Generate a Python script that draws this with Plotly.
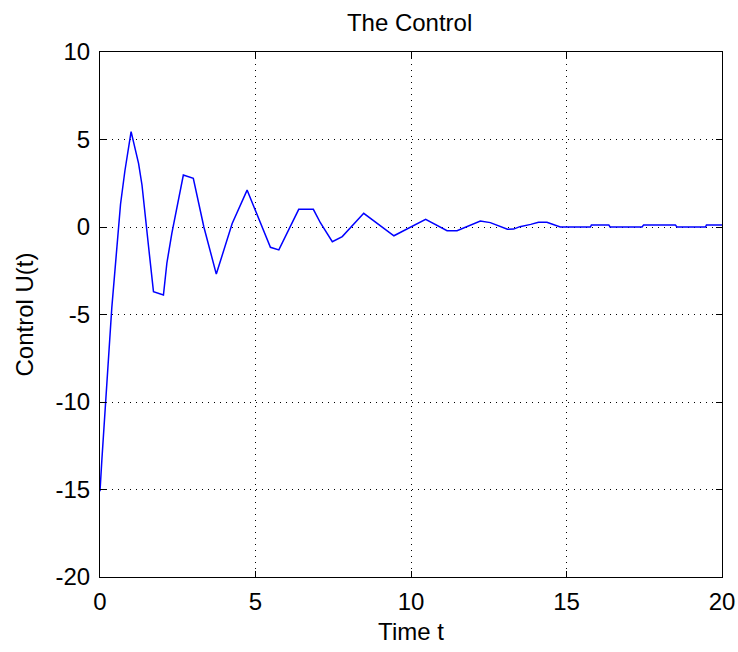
import plotly.graph_objects as go

time_t = [0.0, 0.06, 0.38, 0.66, 0.8, 1.0, 1.24, 1.35, 1.56, 1.67, 1.72, 2.04, 2.15, 2.31, 2.52, 2.68,
          3.0, 3.34, 3.74, 4.25, 4.73, 5.1, 5.48, 5.75, 6.39, 6.86, 7.09, 7.47, 7.79, 8.48, 9.45,
          10.47, 11.16, 11.48, 12.23, 12.55, 13.1, 13.3, 13.5, 13.85, 14.1, 14.37, 14.8,
          15.77, 15.8, 16.36, 16.4, 17.43, 17.48, 18.5, 18.55, 19.47, 19.5, 20.0]
control_u = [-15.1, -13.3, -4.6, 1.3, 3.2, 5.45, 3.64, 2.4, -1.1, -3.1, -3.7, -3.89, -2.07, -0.36, 1.54, 2.97,
             2.78, 0.0, -2.69, 0.2, 2.11, 0.5, -1.16, -1.31, 1.01, 1.01, 0.23, -0.84, -0.55, 0.78, -0.5,
             0.44, -0.21, -0.21, 0.34, 0.25, -0.13, -0.12, 0.02, 0.15, 0.27, 0.27, 0.0,
             0.0, 0.12, 0.12, 0.0, 0.0, 0.12, 0.12, 0.0, 0.0, 0.12, 0.12]

x_ticks = [0, 5, 10, 15, 20]
y_ticks = [-20, -15, -10, -5, 0, 5, 10]

FONT = "Liberation Sans, Arial, sans-serif"
FS = 24

fig = go.Figure()
fig.add_trace(go.Scatter(x=time_t, y=control_u, mode="lines",
                         line=dict(color="rgb(0,0,255)", width=1.5), showlegend=False))

axis_common = dict(
    showline=True, linecolor="black", linewidth=1, mirror="ticks",
    ticks="inside", ticklen=6, tickcolor="black", tickwidth=1,
    showgrid=True, gridcolor="black", gridwidth=1, griddash="1px,5px",
    zeroline=False, automargin=False,
    tickfont=dict(family=FONT, size=FS, color="black"),
)

fig.update_xaxes(range=[0, 20], tickvals=x_ticks, ticktext=[str(v) for v in x_ticks],
                 ticklabelstandoff=3,
                 title=dict(text="Time t", font=dict(family=FONT, size=FS, color="black"), standoff=9),
                 **axis_common)
fig.update_yaxes(range=[-20, 10], tickvals=y_ticks, ticktext=[str(v) for v in y_ticks],
                 ticklabelstandoff=4,
                 title=dict(text="Control U(t)", font=dict(family=FONT, size=FS, color="black"), standoff=15),
                 **axis_common)

fig.update_layout(
    width=738, height=652,
    margin=dict(l=100, r=16, t=52, b=75),
    paper_bgcolor="white", plot_bgcolor="white",
    title=dict(text="The Control", x=0.555, xanchor="center", y=0.966, yanchor="middle",
               font=dict(family=FONT, size=FS, color="black")),
)

fig.write_html("out.html")
